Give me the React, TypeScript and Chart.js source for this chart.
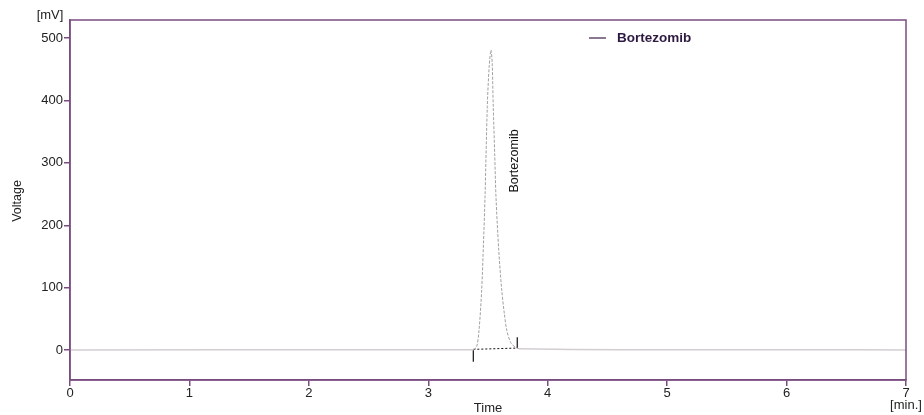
import React, { useEffect, useRef } from "react";
import { Chart, registerables } from "chart.js";

Chart.register(...registerables);

// ---- data ----
const xTicks = [0, 1, 2, 3, 4, 5, 6, 7];
const yTicks = [0, 100, 200, 300, 400, 500];

const baseLeftTime = [0, 1.3, 1.7, 2.2, 2.7, 3.1, 3.38];
const baseLeftValue = [0, 0.6, 0.3, 0.6, 0.3, 0.4, 0.5];

const peakTime = [3.38, 3.405, 3.425, 3.447, 3.462, 3.475, 3.494, 3.51, 3.525, 3.535, 3.544, 3.556, 3.567, 3.59, 3.615, 3.637, 3.657, 3.69, 3.726, 3.76];
const peakValue = [0.5, 5, 32, 96, 170, 245, 390, 455, 481, 460, 390, 315, 245, 160, 96, 58, 32, 12, 5, 2];

const baseRightTime = [3.76, 4.2, 4.6, 5.2, 6.0, 6.6, 7];
const baseRightValue = [2, 0.8, 0.5, 0.4, 0.5, 0.3, 0];

const integTime = [3.377, 3.745];
const integValue = [1.1, 3.2];
const markStartValue = [-18.7, 1.1];
const markEndValue = [3.2, 20.4];

const peakName = "Bortezomib";
const peakLabelTime = 3.726;
const peakLabelValue = 303;

const AXIS = "#7a4c80";
const FONT = "'Liberation Sans', Arial, sans-serif";

const pts = (xs: number[], ys: number[]) => xs.map((x, i) => ({ x, y: ys[i] }));

export default function App() {
  const ref = useRef<HTMLCanvasElement | null>(null);

  useEffect(() => {
    document.body.style.margin = "0";
    const canvas = ref.current!;
    const overlay = {
      id: "overlay",
      afterDraw(chart: any) {
        const { ctx, chartArea: a, scales } = chart;
        const xs = scales.x;
        const ys = scales.y;
        ctx.save();
        // frame
        ctx.strokeStyle = AXIS;
        ctx.lineWidth = 1.5;
        ctx.strokeRect(a.left, a.top, a.right - a.left, a.bottom - a.top);
        ctx.fillStyle = "#222";
        ctx.font = `13px ${FONT}`;
        ctx.textBaseline = "middle";
        ctx.textAlign = "center";
        ctx.fillText("[mV]", 50, 15);
        ctx.fillText("Time", 488, 408);
        ctx.fillText("[min.]", 906, 405);
        // Voltage rotated
        ctx.save();
        ctx.translate(18, 201);
        ctx.rotate(-Math.PI / 2);
        ctx.font = `12.5px ${FONT}`;
        ctx.fillText("Voltage", 0, 0);
        ctx.restore();
        // peak label
        ctx.save();
        ctx.translate(xs.getPixelForValue(peakLabelTime), ys.getPixelForValue(peakLabelValue));
        ctx.rotate(-Math.PI / 2);
        ctx.font = `12.5px ${FONT}`;
        ctx.fillStyle = "#111";
        ctx.fillText(peakName, 0, 0);
        ctx.restore();
        // legend
        ctx.strokeStyle = "#3c1d4a";
        ctx.lineWidth = 1.2;
        ctx.beginPath();
        ctx.moveTo(589, 38);
        ctx.lineTo(606, 38);
        ctx.stroke();
        ctx.font = `bold 13.5px ${FONT}`;
        ctx.fillStyle = "#2e1a40";
        ctx.textAlign = "left";
        ctx.fillText(peakName, 617, 38);
        ctx.restore();
      },
    };

    const chart = new Chart(canvas, {
      type: "line",
      data: {
        datasets: [
          { data: pts(baseLeftTime, baseLeftValue), borderColor: "#d4ced3", borderWidth: 1.5, pointRadius: 0, tension: 0 },
          { data: pts(baseRightTime, baseRightValue), borderColor: "#d4ced3", borderWidth: 1.5, pointRadius: 0, tension: 0 },
          { data: pts(peakTime, peakValue), borderColor: "#a0a0a0", borderWidth: 1, borderDash: [3, 1.5], pointRadius: 0, tension: 0.3 },
          { data: pts(integTime, integValue), borderColor: "#111", borderWidth: 1, borderDash: [2, 2], pointRadius: 0 },
          { data: pts([integTime[0], integTime[0]], markStartValue), borderColor: "#111", borderWidth: 1.2, pointRadius: 0 },
          { data: pts([integTime[1], integTime[1]], markEndValue), borderColor: "#111", borderWidth: 1.2, pointRadius: 0 },
        ],
      },
      options: {
        responsive: false,
        animation: false,
        devicePixelRatio: 1,
        parsing: false,
        layout: { padding: { left: 0, right: 18, top: 20, bottom: 0 } },
        plugins: { legend: { display: false }, tooltip: { enabled: false } },
        scales: {
          x: {
            type: "linear",
            min: 0,
            max: 7,
            afterBuildTicks: (s: any) => { s.ticks = xTicks.map((v) => ({ value: v })); },
            afterFit: (s: any) => { s.height = 35; },
            grid: { drawOnChartArea: false, drawTicks: true, tickLength: 6, color: AXIS, lineWidth: 1.5 },
            border: { display: true, color: AXIS, width: 1.5 },
            ticks: { color: "#222", font: { family: FONT, size: 13 }, padding: 0, maxRotation: 0 },
          },
          y: {
            type: "linear",
            min: -48,
            max: 529,
            afterBuildTicks: (s: any) => { s.ticks = yTicks.map((v) => ({ value: v })); },
            afterFit: (s: any) => { s.width = 70; },
            grid: { drawOnChartArea: false, drawTicks: true, tickLength: 6, color: AXIS, lineWidth: 1.5 },
            border: { display: true, color: AXIS, width: 1.5 },
            ticks: { color: "#222", font: { family: FONT, size: 13 }, padding: 1 },
          },
        },
      },
      plugins: [overlay],
    } as any);
    return () => chart.destroy();
  }, []);

  return (
    <div style={{ width: 924, height: 415 }}>
      <canvas ref={ref} width={924} height={415} />
    </div>
  );
}
